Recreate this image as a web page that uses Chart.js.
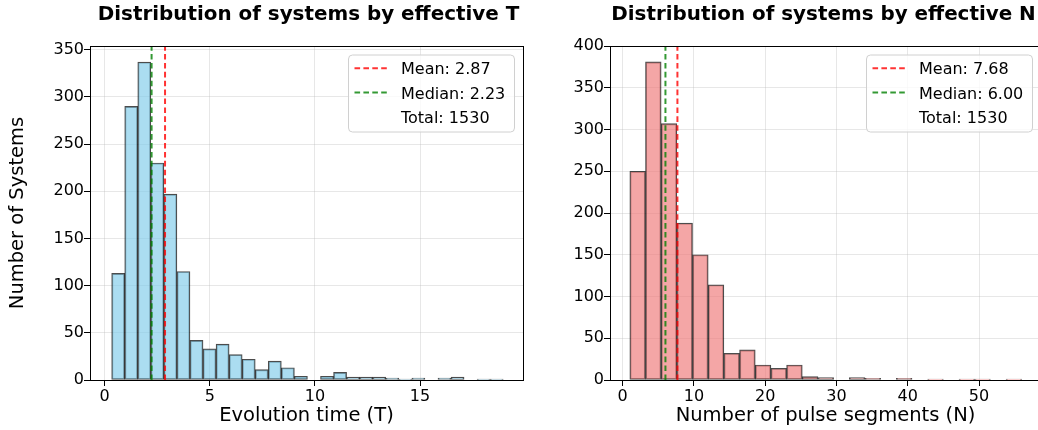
<!DOCTYPE html>
<html>
<head>
<meta charset="utf-8">
<script src="https://cdn.jsdelivr.net/npm/chart.js@4.4.1/dist/chart.umd.min.js"></script>
<style>
html, body { margin: 0; padding: 0; background: #fff; overflow: hidden; }
body { width: 1038px; height: 430px; position: relative; }
canvas { position: absolute; top: 0; }
#chartT { left: 0; }
#chartN { left: 530px; }
</style>
</head>
<body>
<canvas id="chartT" width="530" height="430"></canvas>
<canvas id="chartN" width="520" height="430"></canvas>
<script>
// evolution time histogram (30 bins)
const tBinStart = 0.33;
const tBinWidth = 0.621;
const tCounts = [113, 290, 337, 230, 197, 115, 42, 33, 38, 27, 22, 11, 20, 13, 4,
                 0, 4, 8, 3, 3, 3, 2, 1, 2, 0, 2, 3, 0, 1, 1];
const tStats = { mean: 2.87, median: 2.23, total: 1530 };
const tTicksX = [0, 5, 10, 15];

// pulse segments histogram (25 bins)
const nBinStart = 1;
const nBinWidth = 2.2;
const nCounts = [250, 381, 307, 188, 150, 114, 32, 36, 18, 14, 18, 4, 3, 0, 3,
                 2, 0, 2, 0, 1, 0, 1, 1, 0, 1];
const nStats = { mean: 7.68, median: 6.00, total: 1530 };
const nTicksX = [0, 10, 20, 30, 40, 50];

Chart.defaults.font.family = "'DejaVu Sans', sans-serif";
Chart.defaults.color = '#000';

const FONT = "'DejaVu Sans', sans-serif";

const framePlugin = {
    id: 'frame',
    afterDatasetsDraw(chart) {
        const ca = chart.chartArea;
        const ctx = chart.ctx;
        ctx.save();
        ctx.strokeStyle = '#000';
        ctx.lineWidth = 1;
        ctx.strokeRect(Math.round(ca.left) + 0.5, Math.round(ca.top) + 0.5,
            Math.round(ca.right - ca.left), Math.round(ca.bottom - ca.top));
        ctx.restore();
    },
    afterDraw(chart, args, opts) {
        const ca = chart.chartArea;
        const ctx = chart.ctx;
        ctx.save();
        // title
        ctx.font = 'bold 19.9px ' + FONT;
        ctx.fillStyle = '#000';
        ctx.textAlign = 'center';
        ctx.textBaseline = 'middle';
        ctx.fillText(opts.title, (ca.left + ca.right) / 2 + opts.titleShift, 15);

        // legend box
        const w = 166, h = 77;
        const x0 = ca.right - 8.5 - w, y0 = ca.top + 9;
        ctx.beginPath();
        ctx.roundRect(x0, y0, w, h, 4);
        ctx.fillStyle = 'rgba(255,255,255,0.8)';
        ctx.fill();
        ctx.strokeStyle = '#d0d0d0';
        ctx.lineWidth = 1;
        ctx.stroke();

        const rows = [
            { color: 'rgba(255,0,0,0.8)', text: 'Mean: ' + opts.mean.toFixed(2) },
            { color: 'rgba(0,128,0,0.8)', text: 'Median: ' + opts.median.toFixed(2) },
            { color: null, text: 'Total: ' + opts.total }
        ];
        ctx.font = '16px ' + FONT;
        ctx.textAlign = 'left';
        ctx.textBaseline = 'alphabetic';
        rows.forEach((r, i) => {
            const yb = y0 + 19.3 + i * 24.2;
            if (r.color) {
                ctx.beginPath();
                ctx.setLineDash([5.6, 3.3]);
                ctx.strokeStyle = r.color;
                ctx.lineWidth = 2;
                ctx.moveTo(x0 + 6, yb - 6);
                ctx.lineTo(x0 + 39, yb - 6);
                ctx.stroke();
                ctx.setLineDash([]);
            }
            ctx.fillStyle = '#000';
            ctx.fillText(r.text, x0 + 52.5, yb);
        });
        ctx.restore();
    }
};

function histChart(id, o) {
    const points = o.counts.map((c, i) => ({ x: o.binStart + o.binWidth * (i + 0.5), y: c }));
    const vline = (v, color) => ({
        type: 'line',
        data: [{ x: v, y: 0 }, { x: v, y: o.yMax }],
        borderColor: color,
        borderWidth: 2,
        borderDash: [5.6, 3.3],
        pointRadius: 0,
        fill: false,
        order: 0
    });
    const grid = {
        color: 'rgba(176,176,176,0.3)',
        tickColor: '#000',
        tickLength: 6,
        offset: false
    };
    return new Chart(document.getElementById(id), {
        type: 'bar',
        data: {
            datasets: [
                vline(o.stats.mean, 'rgba(255,0,0,0.8)'),
                vline(o.stats.median, 'rgba(0,128,0,0.8)'),
                {
                    type: 'bar',
                    data: points,
                    backgroundColor: o.fill,
                    borderColor: 'rgba(0,0,0,0.7)',
                    borderWidth: 1.2,
                    borderSkipped: false,
                    barPercentage: 1,
                    categoryPercentage: 1,
                    order: 1
                }
            ]
        },
        options: {
            responsive: false,
            animation: false,
            events: [],
            layout: { padding: { top: 46, right: o.padRight, left: 0, bottom: 0 } },
            plugins: {
                legend: { display: false },
                tooltip: { enabled: false },
                frame: {
                    title: o.title, titleShift: o.titleShift,
                    mean: o.stats.mean, median: o.stats.median, total: o.stats.total
                }
            },
            scales: {
                x: {
                    type: 'linear',
                    min: o.xMin,
                    max: o.xMax,
                    offset: false,
                    grid: grid,
                    border: { color: '#000', width: 1 },
                    afterBuildTicks: (s) => { s.ticks = o.ticksX.map(v => ({ value: v })); },
                    afterFit: (s) => { s.height = 50; },
                    ticks: { font: { size: 16 }, padding: 1, maxRotation: 0 },
                    title: {
                        display: true,
                        text: o.xTitle,
                        font: { size: 19.5 },
                        padding: { top: 0, bottom: 2.5 }
                    }
                },
                y: {
                    min: 0,
                    max: o.yMax,
                    grid: grid,
                    border: { color: '#000', width: 1 },
                    afterFit: (s) => { s.width = o.yWidth; },
                    ticks: { stepSize: 50, font: { size: 16 }, padding: 0, includeBounds: false },
                    title: {
                        display: !!o.yTitle,
                        text: o.yTitle,
                        font: { size: 19.5 },
                        padding: { top: 6, bottom: 0 }
                    }
                }
            }
        },
        plugins: [framePlugin]
    });
}

histChart('chartT', {
    counts: tCounts, binStart: tBinStart, binWidth: tBinWidth, stats: tStats,
    ticksX: tTicksX, xMin: -0.7, xMax: 19.9, yMax: 354, yWidth: 90, padRight: 7,
    fill: 'rgba(135,206,235,0.7)', titleShift: 2,
    title: 'Distribution of systems by effective T',
    xTitle: 'Evolution time (T)', yTitle: 'Number of Systems'
});

histChart('chartN', {
    counts: nCounts, binStart: nBinStart, binWidth: nBinWidth, stats: nStats,
    ticksX: nTicksX, xMin: -1.78, xMax: 58.7, yMax: 400, yWidth: 80, padRight: 9,
    fill: 'rgba(240,128,128,0.7)', titleShift: -2,
    title: 'Distribution of systems by effective N',
    xTitle: 'Number of pulse segments (N)', yTitle: ''
});
</script>
</body>
</html>
